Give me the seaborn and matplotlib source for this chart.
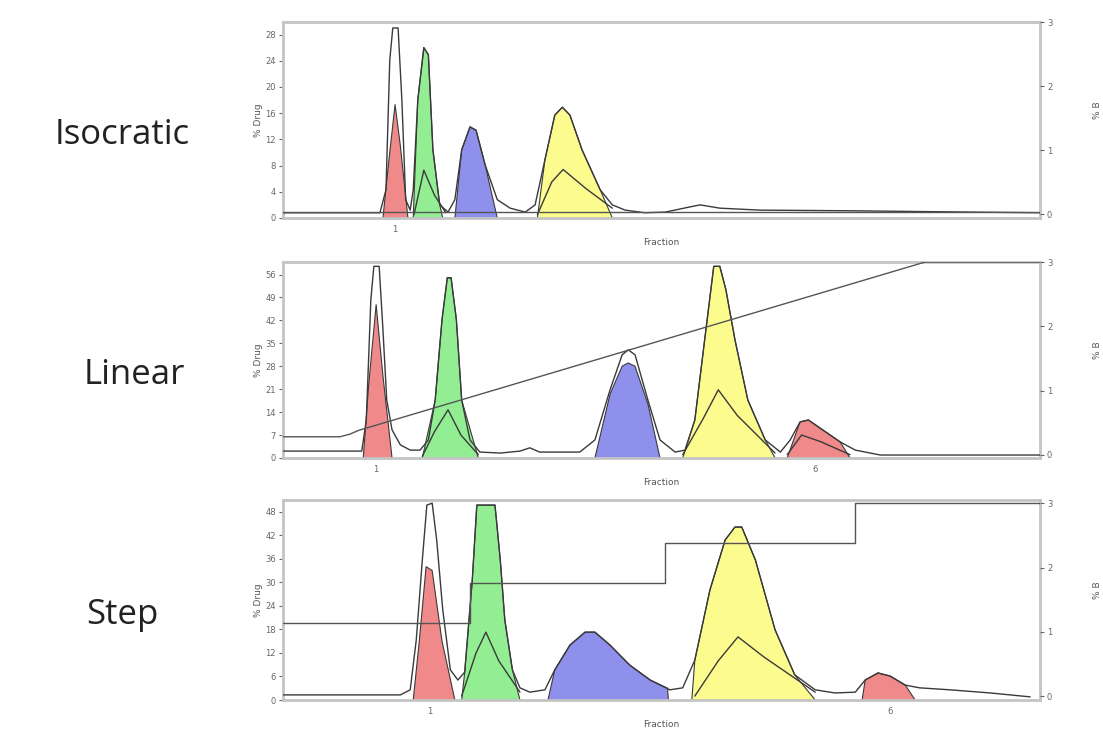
import matplotlib
matplotlib.use("Agg")
import matplotlib.pyplot as plt
import seaborn as sns

# ---- Isocratic panel -------------------------------------------------------
iso_x = [0, 12.8, 13.6, 14.1, 14.5, 15.2, 15.7, 16.2, 16.8, 17.2, 17.8, 18.6, 19.2, 19.8,
         20.7, 21.8, 22.7, 23.6, 24.7, 25.5, 26.7, 28.3, 30.0, 32.0, 33.3, 34.6, 35.9,
         36.9, 37.9, 39.5, 41.9, 43.5, 45.2, 47.8, 50.5, 53.8, 55.1, 57.7, 63.0, 74.9,
         90.8, 100]
iso_y = [0.8, 0.8, 4.3, 24.1, 29.0, 29.0, 18.0, 2.8, 1.2, 4.3, 18.0, 26.0, 24.9, 10.4,
         2.0, 0.9, 2.8, 10.4, 13.9, 13.4, 8.1, 2.8, 1.5, 0.9, 2.0, 8.9, 15.7,
         16.9, 15.7, 10.4, 4.3, 2.0, 1.2, 0.8, 0.9, 1.7, 2.0, 1.5, 1.2, 1.1,
         0.9, 0.8]
iso_red_x = [13.2, 14.0, 14.8, 15.5, 16.5]
iso_red_y = [0, 9, 17.3, 11, 0]
iso_green_x = [17.2, 17.8, 18.6, 19.2, 19.8, 20.7, 21.1]
iso_green_y = [0, 18.0, 26.0, 24.9, 10.4, 2.0, 0]
iso_green_in_x = [17.3, 18.6, 20.0, 21.5]
iso_green_in_y = [0.5, 7.3, 3.5, 0.8]
iso_blue_x = [22.7, 23.6, 24.7, 25.5, 26.7, 28.3]
iso_blue_y = [0, 10.4, 13.9, 13.4, 8.1, 0]
iso_yellow_x = [33.6, 34.6, 35.9, 36.9, 37.9, 39.5, 41.9, 43.5]
iso_yellow_y = [0, 8.9, 15.7, 16.9, 15.7, 10.4, 4.3, 0]
iso_yellow_in_x = [33.6, 35.5, 37.0, 40.0, 43.5]
iso_yellow_in_y = [0.5, 5.5, 7.4, 4.5, 1.5]
iso_grad_x = [0, 100]
iso_grad_y = [0.03, 0.03]

# ---- Linear panel ----------------------------------------------------------
lin_x = [0, 10.4, 11.0, 11.6, 12.0, 12.7, 13.2, 13.7, 14.4, 15.5, 16.8, 18.1, 19.2, 20.1,
         21.0, 21.7, 22.2, 22.9, 23.6, 24.7, 26.0, 28.7, 31.3, 32.6, 33.9, 39.2, 41.2,
         43.2, 44.8, 45.6, 46.5, 48.2, 49.8, 51.8, 53.1, 54.4, 55.7, 56.9, 57.7, 58.5,
         59.7, 61.4, 63.7, 65.7, 67.0, 68.3, 69.4, 70.9, 73.6, 75.6, 78.9, 100]
lin_y = [2.1, 2.1, 11.6, 48.3, 58.5, 58.5, 39.1, 17.7, 8.6, 4.0, 2.4, 2.4, 5.5, 17.7,
         42.2, 55.0, 55.0, 42.2, 17.7, 5.5, 1.8, 1.5, 2.1, 3.1, 1.8, 1.8, 5.5,
         20.8, 31.5, 33.0, 31.5, 17.7, 5.5, 1.8, 2.4, 11.6, 36.1, 58.5, 58.5, 51.4,
         36.1, 17.7, 5.5, 1.8, 5.5, 11.0, 11.6, 9.2, 4.9, 2.4, 0.9, 0.9]
lin_red_x = [10.6, 11.3, 12.3, 13.2, 14.4]
lin_red_y = [0, 22, 46.8, 25, 0]
lin_green_x = [18.4, 20.1, 21.0, 21.7, 22.2, 22.9, 23.6, 25.8]
lin_green_y = [0, 17.7, 42.2, 55.0, 55.0, 42.2, 17.7, 0]
lin_green_in_x = [18.4, 20.0, 21.8, 23.5, 25.8]
lin_green_in_y = [0.5, 8, 14.7, 7, 1]
lin_blue_x = [41.2, 43.2, 44.8, 45.6, 46.5, 48.2, 49.8]
lin_blue_y = [0, 19.5, 28.0, 29.0, 28.0, 16.5, 0]
lin_yellow_x = [52.8, 54.4, 55.7, 56.9, 57.7, 58.5, 59.7, 61.4, 63.7, 65.0]
lin_yellow_y = [0, 11.6, 36.1, 58.5, 58.5, 51.4, 36.1, 17.7, 5.5, 0]
lin_yellow_in_x = [52.8, 55.5, 57.5, 60.0, 65.0]
lin_yellow_in_y = [1, 12, 20.8, 13, 1.5]
lin_red2_x = [66.6, 68.3, 69.4, 70.9, 73.6, 74.9]
lin_red2_y = [0, 11.0, 11.6, 9.2, 4.9, 0]
lin_red2_in_x = [66.6, 68.5, 71.0, 74.9]
lin_red2_in_y = [1, 7, 5, 1]
lin_grad_x = [0, 7.5, 8.8, 10.0, 84.8, 100]
lin_grad_y = [0.28, 0.28, 0.32, 0.38, 3.0, 3.0]

# ---- Step panel ------------------------------------------------------------
step_x = [0, 15.5, 16.8, 17.6, 18.4, 19.0, 19.7, 20.3, 21.1, 22.1, 23.1, 24.0, 25.0, 25.6,
          28.0, 28.7, 29.3, 30.3, 31.3, 32.6, 34.6, 35.9, 37.9, 39.9, 41.2, 43.2, 45.8,
          48.5, 51.1, 52.8, 54.4, 56.4, 58.4, 59.7, 60.6, 62.4, 65.0, 67.6, 70.3, 72.9,
          75.6, 76.9, 78.6, 80.2, 82.2, 84.1, 88.1, 93.4, 98.7]
step_y = [1.3, 1.3, 2.6, 15.3, 35.7, 49.7, 50.2, 40.8, 23.0, 7.7, 5.1, 7.1, 30.6, 49.7,
          49.7, 35.7, 20.4, 7.7, 3.1, 2.0, 2.6, 7.7, 14.0, 17.3, 17.3, 14.0, 8.9,
          5.1, 2.6, 3.1, 10.2, 28.1, 40.8, 44.1, 44.1, 35.7, 17.9, 6.4, 2.6, 1.8,
          2.0, 5.1, 6.9, 6.1, 3.8, 3.1, 2.6, 1.8, 0.8]
step_red_x = [17.2, 18.0, 18.9, 19.7, 21.0, 22.7]
step_red_y = [0, 15, 34, 33, 15, 0]
step_green_x = [23.6, 24.0, 25.0, 25.6, 28.0, 28.7, 29.3, 30.3, 31.3]
step_green_y = [0, 7.1, 30.6, 49.7, 49.7, 35.7, 20.4, 7.7, 0]
step_green_in_x = [23.6, 25.5, 26.8, 28.5, 31.3]
step_green_in_y = [1, 12, 17.3, 10, 2]
step_blue_x = [35.0, 35.9, 37.9, 39.9, 41.2, 43.2, 45.8, 48.5, 50.8, 50.9]
step_blue_y = [0, 7.7, 14.0, 17.3, 17.3, 14.0, 8.9, 5.1, 3.0, 0]
step_yellow_x = [54.0, 54.4, 56.4, 58.4, 59.7, 60.6, 62.4, 65.0, 67.6, 70.3]
step_yellow_y = [0, 10.2, 28.1, 40.8, 44.1, 44.1, 35.7, 17.9, 6.4, 0]
step_yellow_in_x = [54.4, 57.5, 60.1, 63.5, 70.3]
step_yellow_in_y = [1, 10, 16.1, 11, 2]
step_red2_x = [76.5, 76.9, 78.6, 80.2, 82.2, 83.5]
step_red2_y = [0, 5.1, 6.9, 6.1, 3.8, 0]
step_grad_x = [0, 24.7, 50.5, 75.6, 100]
step_grad_y = [1.13, 1.76, 2.38, 3.0, 3.0]

RED, GREEN, BLUE, YELLOW = "#f08a8a", "#93ee93", "#8f8fec", "#fbfb8e"
LINE = "#3a3a3a"
SPINE = "#c4c4c4"

sns.set_style("white")
plt.rcParams["font.family"] = ["DejaVu Sans"]

fig = plt.figure(figsize=(11.03, 7.31), dpi=100)

panels = [
    dict(name="Isocratic", rect=[0.2566, 0.7018, 0.6863, 0.268], ymax=29.9, yticks=range(0, 29, 4),
         x=iso_x, y=iso_y, gx=iso_grad_x, gy=iso_grad_y, gstep=False, rlim=(-0.06, 3.0),
         fills=[(iso_red_x, iso_red_y, RED), (iso_green_x, iso_green_y, GREEN),
                (iso_blue_x, iso_blue_y, BLUE), (iso_yellow_x, iso_yellow_y, YELLOW)],
         inner=[(iso_green_in_x, iso_green_in_y), (iso_yellow_in_x, iso_yellow_in_y)],
         xt=[14.8, 100], xtl=["1", ""], label_y=0.815, label_x=0.111),
    dict(name="Linear", rect=[0.2566, 0.3735, 0.6863, 0.268], ymax=59.8, yticks=range(0, 57, 7),
         x=lin_x, y=lin_y, gx=lin_grad_x, gy=lin_grad_y, gstep=False, rlim=(-0.05, 3.0),
         fills=[(lin_red_x, lin_red_y, RED), (lin_green_x, lin_green_y, GREEN),
                (lin_blue_x, lin_blue_y, BLUE), (lin_yellow_x, lin_yellow_y, YELLOW),
                (lin_red2_x, lin_red2_y, RED)],
         inner=[(lin_green_in_x, lin_green_in_y), (lin_yellow_in_x, lin_yellow_in_y),
                (lin_red2_in_x, lin_red2_in_y)],
         xt=[12.3, 70.3, 100], xtl=["1", "6", ""], label_y=0.487, label_x=0.122),
    dict(name="Step", rect=[0.2566, 0.0424, 0.6863, 0.2736], ymax=51.0, yticks=range(0, 49, 6),
         x=step_x, y=step_y, gx=step_grad_x, gy=step_grad_y, gstep=True, rlim=(-0.06, 3.05),
         fills=[(step_red_x, step_red_y, RED), (step_green_x, step_green_y, GREEN),
                (step_blue_x, step_blue_y, BLUE), (step_yellow_x, step_yellow_y, YELLOW),
                (step_red2_x, step_red2_y, RED)],
         inner=[(step_green_in_x, step_green_in_y), (step_yellow_in_x, step_yellow_in_y)],
         xt=[19.4, 80.2, 100], xtl=["1", "6", ""], label_y=0.159, label_x=0.111),
]

for p in panels:
    ax = fig.add_axes(p["rect"])
    # coloured fractions
    for fx, fy, col in p["fills"]:
        ax.fill(fx, fy, color=col, lw=0, zorder=1)
        ax.plot(fx, fy, color=LINE, lw=0.8, zorder=2)
    for ix, iy in p["inner"]:
        ax.plot(ix, iy, color=LINE, lw=1.0, zorder=3)
    # total trace
    sns.lineplot(x=p["x"], y=p["y"], ax=ax, color=LINE, lw=1.0, sort=False, zorder=4)
    ax.set_xlim(0, 100)
    ax.set_ylim(0, p["ymax"])
    ax.set_yticks(list(p["yticks"]))
    ax.set_xticks(p["xt"])
    ax.set_xticklabels(p["xtl"])
    ax.set_xlabel("Fraction", fontsize=6.5, color="#555", labelpad=3)
    ax.set_ylabel("% Drug", fontsize=6.5, color="#555", labelpad=2)
    ax.tick_params(axis="both", labelsize=6, colors="#666", length=3, width=0.8, pad=2)
    for s in ax.spines.values():
        s.set_color(SPINE)
        s.set_linewidth(2)

    # gradient on right axis
    ax2 = ax.twinx()
    if p["gstep"]:
        ax2.plot(p["gx"], p["gy"], color="#555", lw=1.0, drawstyle="steps-post")
    else:
        ax2.plot(p["gx"], p["gy"], color="#555", lw=1.0)
    ax2.set_ylim(*p["rlim"])
    ax2.set_yticks([0, 1, 2, 3])
    ax2.tick_params(axis="y", labelsize=6, colors="#666", length=3, width=0.8, pad=2)
    for s in ax2.spines.values():
        s.set_visible(False)

    fig.text(p["label_x"], p["label_y"], p["name"], fontsize=25, family="Open Sans",
             ha="center", va="center", color="#222")
    fig.text(0.999, p["rect"][1] + p["rect"][3] * 0.55, "% B", rotation=90, fontsize=6.5,
             color="#555", ha="right", va="center")

fig.savefig("out.png", dpi=100)
